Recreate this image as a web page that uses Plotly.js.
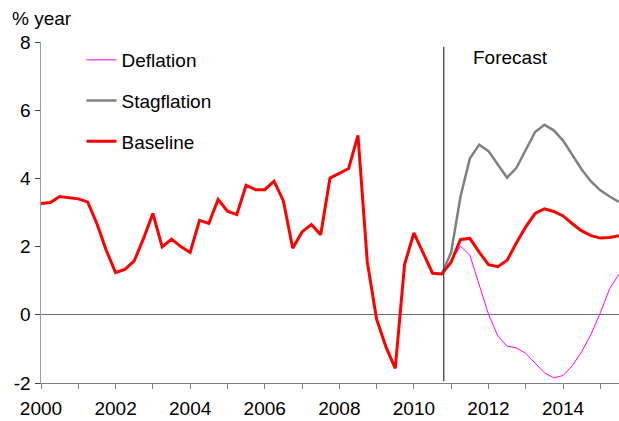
<!DOCTYPE html>
<html>
<head>
<meta charset="utf-8">
<script src="https://cdn.plot.ly/plotly-3.0.1.min.js"></script>
<style>html,body{margin:0;padding:0;background:#fff}#chart{width:619px;height:421px}</style>
</head>
<body>
<div id="chart"></div>
<script>
// Quarterly history 2000Q1 .. 2010Q4
const histStart = 2000;
const baselineHist = [3.26,3.29,3.47,3.44, 3.40,3.31,2.67,1.89, 1.24,1.33,1.58,2.24,
  2.97,1.99,2.22,2.00, 1.83,2.77,2.68,3.38, 3.04,2.94,3.80,3.67, 3.67,3.92,3.34,1.95,
  2.43,2.65,2.35,4.01, 4.14,4.29,5.26,1.55, -0.13,-0.94,-1.57,1.48, 2.40,1.80,1.22,1.20];
// Forecast quarterly 2010Q4 .. 2015Q3
const fcStart = 2010.75;
const baselineFc = [1.20,1.55,2.21,2.24,1.84,1.47,1.41,1.60,2.11,2.58,2.97,3.11,3.03,2.90,2.67,2.46,2.32,2.25,2.27,2.32];
const deflationFc = [1.20,1.60,2.01,1.75,0.92,0.02,-0.62,-0.92,-0.97,-1.13,-1.42,-1.70,-1.85,-1.78,-1.49,-1.08,-0.57,0.06,0.77,1.19];
const stagflationFc = [1.20,1.84,3.47,4.58,4.99,4.80,4.41,4.02,4.31,4.84,5.36,5.57,5.41,5.11,4.69,4.26,3.91,3.65,3.47,3.31];
const forecastStart = 2010.8;
const xTickVals = [2000,2002,2004,2006,2008,2010,2012,2014];
const yTickVals = [-2,0,2,4,6,8];
const yTickText = ['-2','0','2','4','6','8'];

const q = (start, n) => Array.from({length:n}, (_, i) => start + i*0.25);
const xHist = q(histStart, baselineHist.length);
const xFc = q(fcStart, baselineFc.length);

const FONT = 'Liberation Sans, Arial, sans-serif';
const FS = 19;

const traces = [
  {x: xFc, y: deflationFc, name: 'Deflation', mode: 'lines', line: {color: '#ff00ff', width: 1}, legendgroup: 'a'},
  {x: xFc, y: stagflationFc, name: 'Stagflation', mode: 'lines', line: {color: '#808080', width: 2.5}, legendgroup: 'b'},
  {x: xHist.concat(xFc.slice(1)), y: baselineHist.concat(baselineFc.slice(1)), name: 'Baseline', mode: 'lines', line: {color: '#ff0000', width: 3}, legendgroup: 'c'}
];

const layout = {
  width: 619, height: 421,
  margin: {l: 41, r: 0, t: 42, b: 38},
  paper_bgcolor: '#fff', plot_bgcolor: '#fff',
  font: {family: FONT, size: FS, color: '#000'},
  showlegend: true,
  legend: {x: 0.07, y: 1.003, xanchor: 'left', yanchor: 'top', bgcolor: 'rgba(0,0,0,0)',
    font: {family: FONT, size: FS, color: '#000'}, traceorder: 'grouped', tracegroupgap: 13},
  xaxis: {range: [2000, 2015.5], tickvals: xTickVals, ticktext: xTickVals.map(String),
    ticks: 'outside', ticklen: 5, tickcolor: '#808080', showline: true, linecolor: '#808080', linewidth: 1,
    showgrid: false, zeroline: false, tickfont: {family: FONT, size: FS, color: '#000'}, ticklabelstandoff: 3,
    minor: {dtick: 1, ticks: 'outside', ticklen: 5, tickcolor: '#808080', showgrid: false}},
  yaxis: {range: [-2, 8], tickvals: yTickVals, ticktext: yTickText, ticks: 'outside', ticklen: 5, tickcolor: '#2d4a60',
    showline: true, linecolor: '#8ca2b3', linewidth: 1.5, showgrid: false,
    zeroline: true, zerolinecolor: '#707070', zerolinewidth: 1,
    tickfont: {family: FONT, size: FS, color: '#000'}},
  shapes: [{type: 'line', xref: 'x', yref: 'y', x0: forecastStart, x1: forecastStart, y0: 7.86, y1: -1.95,
    line: {color: '#444', width: 1.3}}],
  annotations: [
    {text: '% year', xref: 'paper', yref: 'paper', x: -0.053, y: 1.07, xanchor: 'left', yanchor: 'middle', showarrow: false,
      font: {family: FONT, size: FS, color: '#000'}},
    {text: 'Forecast', xref: 'x', yref: 'paper', x: 2011.52, y: 0.955, xanchor: 'left', yanchor: 'middle', showarrow: false,
      font: {family: FONT, size: FS, color: '#000'}}
  ]
};

Plotly.newPlot('chart', traces, layout, {displayModeBar: false, staticPlot: true});
</script>
</body>
</html>
